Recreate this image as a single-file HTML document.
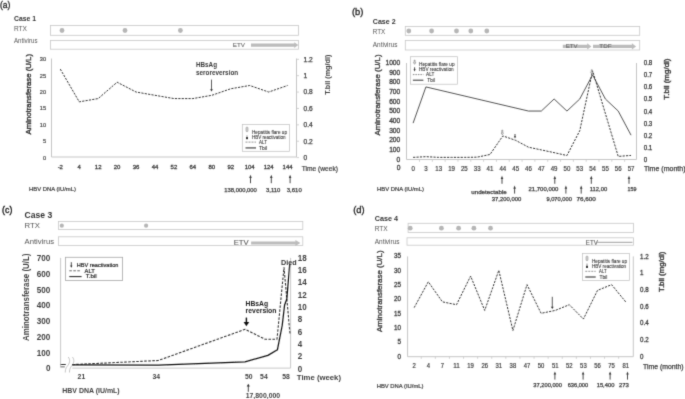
<!DOCTYPE html>
<html><head><meta charset="utf-8"><style>
html,body{margin:0;padding:0;background:#fff;}
svg{display:block;font-family:"Liberation Sans", sans-serif;will-change:transform;}
</style></head><body>
<svg width="685" height="399" viewBox="0 0 685 399">
<defs><filter id="bl" x="0" y="0" width="685" height="399" filterUnits="userSpaceOnUse"><feConvolveMatrix order="3" kernelMatrix="1 6 1 6 36 6 1 6 1" divisor="64" edgeMode="duplicate" preserveAlpha="false"/></filter></defs>
<rect width="685" height="399" fill="#fff"/>
<g filter="url(#bl)">
<text x="0.00" y="8.13" font-size="9.8" fill="#222" stroke="#222" stroke-width="0.3" textLength="10.40" lengthAdjust="spacingAndGlyphs">(a)</text>
<text x="14.00" y="20.72" font-size="7" fill="#333" font-weight="bold" textLength="22.00" lengthAdjust="spacingAndGlyphs">Case 1</text>
<text x="14.00" y="30.84" font-size="6.5" fill="#555" textLength="13.00" lengthAdjust="spacingAndGlyphs">RTX</text>
<rect x="50.50" y="25.50" width="248.00" height="9.80" fill="none" stroke="#c8c8c8" stroke-width="0.8"/>
<circle cx="62.00" cy="30.50" r="2.4" fill="#b6b6b6"/>
<circle cx="125.00" cy="30.50" r="2.4" fill="#b6b6b6"/>
<circle cx="180.40" cy="30.50" r="2.4" fill="#b6b6b6"/>
<text x="14.00" y="43.34" font-size="6.5" fill="#555" textLength="23.50" lengthAdjust="spacingAndGlyphs">Antivirus</text>
<rect x="50.50" y="40.50" width="248.00" height="8.70" fill="none" stroke="#c8c8c8" stroke-width="0.8"/>
<text x="232.80" y="47.23" font-size="6.2" fill="#666" stroke="#666" stroke-width="0.1" textLength="12.20" lengthAdjust="spacingAndGlyphs">ETV</text>
<polygon points="251.00,43.55 294.30,43.55 294.30,42.30 298.30,45.10 294.30,47.90 294.30,46.65 251.00,46.65" fill="#bcbcbc"/>
<line x1="51.50" y1="58.50" x2="51.50" y2="157.00" stroke="#c6c6c6" stroke-width="1"/>
<line x1="51.50" y1="157.00" x2="296.50" y2="157.00" stroke="#c6c6c6" stroke-width="1"/>
<line x1="296.50" y1="58.50" x2="296.50" y2="157.00" stroke="#c6c6c6" stroke-width="1"/>
<text x="46.00" y="159.52" font-size="5.6" fill="#444" stroke="#444" stroke-width="0.2" text-anchor="end">0</text>
<text x="46.00" y="143.15" font-size="5.6" fill="#444" stroke="#444" stroke-width="0.2" text-anchor="end">5</text>
<text x="46.00" y="126.78" font-size="5.6" fill="#444" stroke="#444" stroke-width="0.2" text-anchor="end">10</text>
<text x="46.00" y="110.42" font-size="5.6" fill="#444" stroke="#444" stroke-width="0.2" text-anchor="end">15</text>
<text x="46.00" y="94.05" font-size="5.6" fill="#444" stroke="#444" stroke-width="0.2" text-anchor="end">20</text>
<text x="46.00" y="77.68" font-size="5.6" fill="#444" stroke="#444" stroke-width="0.2" text-anchor="end">25</text>
<text x="46.00" y="61.32" font-size="5.6" fill="#444" stroke="#444" stroke-width="0.2" text-anchor="end">30</text>
<text x="303.50" y="159.98" font-size="6.6" fill="#404040" stroke="#404040" stroke-width="0.25">0</text>
<line x1="296.50" y1="157.60" x2="299.00" y2="157.60" stroke="#c6c6c6" stroke-width="0.8"/>
<text x="303.50" y="143.59" font-size="6.6" fill="#404040" stroke="#404040" stroke-width="0.25">0.2</text>
<line x1="296.50" y1="141.22" x2="299.00" y2="141.22" stroke="#c6c6c6" stroke-width="0.8"/>
<text x="303.50" y="127.21" font-size="6.6" fill="#404040" stroke="#404040" stroke-width="0.25">0.4</text>
<line x1="296.50" y1="124.83" x2="299.00" y2="124.83" stroke="#c6c6c6" stroke-width="0.8"/>
<text x="303.50" y="110.83" font-size="6.6" fill="#404040" stroke="#404040" stroke-width="0.25">0.6</text>
<line x1="296.50" y1="108.45" x2="299.00" y2="108.45" stroke="#c6c6c6" stroke-width="0.8"/>
<text x="303.50" y="94.44" font-size="6.6" fill="#404040" stroke="#404040" stroke-width="0.25">0.8</text>
<line x1="296.50" y1="92.07" x2="299.00" y2="92.07" stroke="#c6c6c6" stroke-width="0.8"/>
<text x="303.50" y="78.06" font-size="6.6" fill="#404040" stroke="#404040" stroke-width="0.25">1</text>
<line x1="296.50" y1="75.68" x2="299.00" y2="75.68" stroke="#c6c6c6" stroke-width="0.8"/>
<text x="303.50" y="61.68" font-size="6.6" fill="#404040" stroke="#404040" stroke-width="0.25">1.2</text>
<line x1="296.50" y1="59.30" x2="299.00" y2="59.30" stroke="#c6c6c6" stroke-width="0.8"/>
<text x="60.30" y="169.36" font-size="6.0" fill="#404040" stroke="#404040" stroke-width="0.3" text-anchor="middle">-2</text>
<text x="79.24" y="169.36" font-size="6.0" fill="#404040" stroke="#404040" stroke-width="0.3" text-anchor="middle">4</text>
<text x="98.18" y="169.36" font-size="6.0" fill="#404040" stroke="#404040" stroke-width="0.3" text-anchor="middle">12</text>
<text x="117.12" y="169.36" font-size="6.0" fill="#404040" stroke="#404040" stroke-width="0.3" text-anchor="middle">20</text>
<text x="136.06" y="169.36" font-size="6.0" fill="#404040" stroke="#404040" stroke-width="0.3" text-anchor="middle">36</text>
<text x="155.00" y="169.36" font-size="6.0" fill="#404040" stroke="#404040" stroke-width="0.3" text-anchor="middle">44</text>
<text x="173.94" y="169.36" font-size="6.0" fill="#404040" stroke="#404040" stroke-width="0.3" text-anchor="middle">52</text>
<text x="192.88" y="169.36" font-size="6.0" fill="#404040" stroke="#404040" stroke-width="0.3" text-anchor="middle">64</text>
<text x="211.82" y="169.36" font-size="6.0" fill="#404040" stroke="#404040" stroke-width="0.3" text-anchor="middle">80</text>
<text x="230.76" y="169.36" font-size="6.0" fill="#404040" stroke="#404040" stroke-width="0.3" text-anchor="middle">92</text>
<text x="249.70" y="169.36" font-size="6.0" fill="#404040" stroke="#404040" stroke-width="0.3" text-anchor="middle">104</text>
<text x="268.64" y="169.36" font-size="6.0" fill="#404040" stroke="#404040" stroke-width="0.3" text-anchor="middle">124</text>
<text x="287.58" y="169.36" font-size="6.0" fill="#404040" stroke="#404040" stroke-width="0.3" text-anchor="middle">144</text>
<text x="301.70" y="170.58" font-size="6.6" fill="#404040" stroke="#404040" stroke-width="0.2" textLength="36.30" lengthAdjust="spacingAndGlyphs">Time (week)</text>
<text transform="translate(28.70,94.25) rotate(-90)" x="0" y="2.74" font-size="7.6" fill="#3a3a3a" stroke="#3a3a3a" stroke-width="0.4" text-anchor="middle" textLength="80.50" lengthAdjust="spacingAndGlyphs">Aminotransferase (U/L)</text>
<text transform="translate(328.00,74.70) rotate(-90)" x="0" y="2.38" font-size="6.6" fill="#404040" font-weight="bold" text-anchor="middle" textLength="40.20" lengthAdjust="spacingAndGlyphs">T.bil (mg/dl)</text>
<polyline points="60.30,69.12 79.24,101.85 98.18,98.58 117.12,82.21 136.06,92.03 155.00,95.31 173.94,98.58 192.88,98.58 211.82,95.31 230.76,88.76 249.70,85.49 268.64,92.03 287.58,85.49" fill="none" stroke="#333" stroke-width="1.0" stroke-dasharray="2.2,1.2" stroke-linejoin="round"/>
<text x="196.00" y="66.78" font-size="6.6" fill="#3a3a3a" font-weight="bold" textLength="21.00" lengthAdjust="spacingAndGlyphs">HBsAg</text>
<text x="196.00" y="75.15" font-size="6.6" fill="#3a3a3a" font-weight="bold" textLength="42.20" lengthAdjust="spacingAndGlyphs">seroreversion</text>
<line x1="211.50" y1="79.60" x2="211.50" y2="90.18" stroke="#333" stroke-width="0.8"/>
<polygon points="211.50,91.50 210.10,89.30 212.90,89.30" fill="#333"/>
<rect x="242.30" y="124.50" width="47.30" height="26.80" fill="none" stroke="#bfbfbf" stroke-width="0.7"/>
<rect x="246.00" y="127.20" width="2.0" height="4.40" rx="0.6" fill="#d8d8d8" stroke="#7a7a7a" stroke-width="0.5"/>
<text x="252.00" y="133.66" font-size="4.6" fill="#2a2a2a" stroke="#2a2a2a" stroke-width="0.06" textLength="35.00" lengthAdjust="spacingAndGlyphs">Hepatitis flare up</text>
<rect x="246.40" y="135.30" width="1.2" height="2.40" fill="#aaa"/>
<rect x="246.00" y="136.90" width="2.0" height="2.3" rx="0.4" fill="#333"/>
<text x="252.00" y="139.26" font-size="4.6" fill="#2a2a2a" stroke="#2a2a2a" stroke-width="0.06" textLength="33.60" lengthAdjust="spacingAndGlyphs">HBV reactivation</text>
<line x1="245.50" y1="142.10" x2="256.00" y2="142.10" stroke="#aaa" stroke-width="1.2" stroke-dasharray="2,1"/>
<text x="259.00" y="143.76" font-size="4.6" fill="#2a2a2a" stroke="#2a2a2a" stroke-width="0.06" textLength="7.90" lengthAdjust="spacingAndGlyphs">ALT</text>
<line x1="245.50" y1="147.90" x2="256.00" y2="147.90" stroke="#6a6a6a" stroke-width="1.5"/>
<text x="259.00" y="149.56" font-size="4.6" fill="#2a2a2a" stroke="#2a2a2a" stroke-width="0.06" textLength="8.10" lengthAdjust="spacingAndGlyphs">Tbil</text>
<text x="29.00" y="190.94" font-size="5.4" fill="#404040" stroke="#404040" stroke-width="0.2" textLength="47.00" lengthAdjust="spacingAndGlyphs">HBV DNA (IU/mL)</text>
<line x1="250.50" y1="176.72" x2="250.50" y2="183.20" stroke="#404040" stroke-width="0.95"/>
<polygon points="250.50,174.80 249.20,178.00 251.80,178.00" fill="#404040"/>
<line x1="271.30" y1="176.72" x2="271.30" y2="183.20" stroke="#404040" stroke-width="0.95"/>
<polygon points="271.30,174.80 270.00,178.00 272.60,178.00" fill="#404040"/>
<line x1="290.10" y1="176.72" x2="290.10" y2="183.20" stroke="#404040" stroke-width="0.95"/>
<polygon points="290.10,174.80 288.80,178.00 291.40,178.00" fill="#404040"/>
<text x="224.30" y="191.80" font-size="5" fill="#404040" stroke="#404040" stroke-width="0.25" textLength="32.50" lengthAdjust="spacingAndGlyphs">138,000,000</text>
<text x="266.00" y="191.80" font-size="5" fill="#404040" stroke="#404040" stroke-width="0.25" textLength="14.40" lengthAdjust="spacingAndGlyphs">3,110</text>
<text x="286.80" y="191.80" font-size="5" fill="#404040" stroke="#404040" stroke-width="0.25" textLength="14.90" lengthAdjust="spacingAndGlyphs">3,610</text>
<text x="351.90" y="15.11" font-size="9.2" fill="#222" stroke="#222" stroke-width="0.3" textLength="11.40" lengthAdjust="spacingAndGlyphs">(b)</text>
<text x="372.80" y="23.86" font-size="7.1" fill="#333" font-weight="bold" textLength="22.80" lengthAdjust="spacingAndGlyphs">Case 2</text>
<text x="372.80" y="33.94" font-size="6.5" fill="#555" textLength="12.50" lengthAdjust="spacingAndGlyphs">RTX</text>
<rect x="405.30" y="26.50" width="234.40" height="8.80" fill="none" stroke="#c8c8c8" stroke-width="0.8"/>
<circle cx="408.80" cy="31.00" r="2.4" fill="#b6b6b6"/>
<circle cx="431.60" cy="31.00" r="2.4" fill="#b6b6b6"/>
<circle cx="456.50" cy="31.00" r="2.4" fill="#b6b6b6"/>
<circle cx="470.80" cy="31.00" r="2.4" fill="#b6b6b6"/>
<circle cx="486.80" cy="31.00" r="2.4" fill="#b6b6b6"/>
<text x="372.80" y="46.74" font-size="6.5" fill="#555" textLength="24.70" lengthAdjust="spacingAndGlyphs">Antivirus</text>
<rect x="405.30" y="40.50" width="234.40" height="9.50" fill="none" stroke="#c8c8c8" stroke-width="0.8"/>
<polygon points="562.80,44.80 587.20,44.80 587.20,43.30 591.40,46.40 587.20,49.50 587.20,48.00 562.80,48.00" fill="#bcbcbc"/>
<polygon points="593.00,44.80 631.90,44.80 631.90,43.30 636.10,46.40 631.90,49.50 631.90,48.00 593.00,48.00" fill="#bcbcbc"/>
<text x="565.80" y="48.06" font-size="6.0" fill="#666" stroke="#666" stroke-width="0.1" textLength="11.80" lengthAdjust="spacingAndGlyphs">ETV</text>
<text x="599.30" y="48.06" font-size="6.0" fill="#666" stroke="#666" stroke-width="0.1" textLength="12.20" lengthAdjust="spacingAndGlyphs">TDF</text>
<line x1="406.50" y1="63.00" x2="406.50" y2="159.50" stroke="#c6c6c6" stroke-width="1"/>
<line x1="406.50" y1="159.50" x2="636.50" y2="159.50" stroke="#c6c6c6" stroke-width="1"/>
<line x1="636.50" y1="63.00" x2="636.50" y2="159.50" stroke="#c6c6c6" stroke-width="1"/>
<text x="400.30" y="161.71" font-size="6.7" fill="#404040" stroke="#404040" stroke-width="0.3" text-anchor="end">0</text>
<text x="400.30" y="152.04" font-size="6.7" fill="#404040" stroke="#404040" stroke-width="0.3" text-anchor="end">100</text>
<text x="400.30" y="142.37" font-size="6.7" fill="#404040" stroke="#404040" stroke-width="0.3" text-anchor="end">200</text>
<text x="400.30" y="132.70" font-size="6.7" fill="#404040" stroke="#404040" stroke-width="0.3" text-anchor="end">300</text>
<text x="400.30" y="123.03" font-size="6.7" fill="#404040" stroke="#404040" stroke-width="0.3" text-anchor="end">400</text>
<text x="400.30" y="113.36" font-size="6.7" fill="#404040" stroke="#404040" stroke-width="0.3" text-anchor="end">500</text>
<text x="400.30" y="103.69" font-size="6.7" fill="#404040" stroke="#404040" stroke-width="0.3" text-anchor="end">600</text>
<text x="400.30" y="94.02" font-size="6.7" fill="#404040" stroke="#404040" stroke-width="0.3" text-anchor="end">700</text>
<text x="400.30" y="84.35" font-size="6.7" fill="#404040" stroke="#404040" stroke-width="0.3" text-anchor="end">800</text>
<text x="400.30" y="74.68" font-size="6.7" fill="#404040" stroke="#404040" stroke-width="0.3" text-anchor="end">900</text>
<text x="400.30" y="65.01" font-size="6.7" fill="#404040" stroke="#404040" stroke-width="0.3" text-anchor="end">1000</text>
<text x="398.50" y="170.31" font-size="6.7" fill="#404040" stroke="#404040" stroke-width="0.3" text-anchor="middle">0</text>
<text x="643.70" y="161.75" font-size="6.8" fill="#333" stroke="#333" stroke-width="0.25" textLength="3.45" lengthAdjust="spacingAndGlyphs">0</text>
<text x="643.70" y="149.69" font-size="6.8" fill="#333" stroke="#333" stroke-width="0.25" textLength="8.60" lengthAdjust="spacingAndGlyphs">0.1</text>
<text x="643.70" y="137.62" font-size="6.8" fill="#333" stroke="#333" stroke-width="0.25" textLength="8.60" lengthAdjust="spacingAndGlyphs">0.2</text>
<text x="643.70" y="125.56" font-size="6.8" fill="#333" stroke="#333" stroke-width="0.25" textLength="8.60" lengthAdjust="spacingAndGlyphs">0.3</text>
<text x="643.70" y="113.50" font-size="6.8" fill="#333" stroke="#333" stroke-width="0.25" textLength="8.60" lengthAdjust="spacingAndGlyphs">0.4</text>
<text x="643.70" y="101.44" font-size="6.8" fill="#333" stroke="#333" stroke-width="0.25" textLength="8.60" lengthAdjust="spacingAndGlyphs">0.5</text>
<text x="643.70" y="89.37" font-size="6.8" fill="#333" stroke="#333" stroke-width="0.25" textLength="8.60" lengthAdjust="spacingAndGlyphs">0.6</text>
<text x="643.70" y="77.31" font-size="6.8" fill="#333" stroke="#333" stroke-width="0.25" textLength="8.60" lengthAdjust="spacingAndGlyphs">0.7</text>
<text x="643.70" y="65.25" font-size="6.8" fill="#333" stroke="#333" stroke-width="0.25" textLength="8.60" lengthAdjust="spacingAndGlyphs">0.8</text>
<text x="413.10" y="170.65" font-size="6.8" fill="#404040" stroke="#404040" stroke-width="0.2" text-anchor="middle" textLength="3.40" lengthAdjust="spacingAndGlyphs">0</text>
<text x="425.92" y="170.65" font-size="6.8" fill="#404040" stroke="#404040" stroke-width="0.2" text-anchor="middle" textLength="3.40" lengthAdjust="spacingAndGlyphs">3</text>
<text x="438.74" y="170.65" font-size="6.8" fill="#404040" stroke="#404040" stroke-width="0.2" text-anchor="middle" textLength="6.80" lengthAdjust="spacingAndGlyphs">13</text>
<text x="451.56" y="170.65" font-size="6.8" fill="#404040" stroke="#404040" stroke-width="0.2" text-anchor="middle" textLength="6.80" lengthAdjust="spacingAndGlyphs">19</text>
<text x="464.38" y="170.65" font-size="6.8" fill="#404040" stroke="#404040" stroke-width="0.2" text-anchor="middle" textLength="6.80" lengthAdjust="spacingAndGlyphs">25</text>
<text x="477.20" y="170.65" font-size="6.8" fill="#404040" stroke="#404040" stroke-width="0.2" text-anchor="middle" textLength="6.80" lengthAdjust="spacingAndGlyphs">33</text>
<text x="490.02" y="170.65" font-size="6.8" fill="#404040" stroke="#404040" stroke-width="0.2" text-anchor="middle" textLength="6.80" lengthAdjust="spacingAndGlyphs">41</text>
<text x="502.84" y="170.65" font-size="6.8" fill="#404040" stroke="#404040" stroke-width="0.2" text-anchor="middle" textLength="6.80" lengthAdjust="spacingAndGlyphs">44</text>
<text x="515.66" y="170.65" font-size="6.8" fill="#404040" stroke="#404040" stroke-width="0.2" text-anchor="middle" textLength="6.80" lengthAdjust="spacingAndGlyphs">45</text>
<text x="528.48" y="170.65" font-size="6.8" fill="#404040" stroke="#404040" stroke-width="0.2" text-anchor="middle" textLength="6.80" lengthAdjust="spacingAndGlyphs">46</text>
<text x="541.30" y="170.65" font-size="6.8" fill="#404040" stroke="#404040" stroke-width="0.2" text-anchor="middle" textLength="6.80" lengthAdjust="spacingAndGlyphs">47</text>
<text x="554.12" y="170.65" font-size="6.8" fill="#404040" stroke="#404040" stroke-width="0.2" text-anchor="middle" textLength="6.80" lengthAdjust="spacingAndGlyphs">49</text>
<text x="566.94" y="170.65" font-size="6.8" fill="#404040" stroke="#404040" stroke-width="0.2" text-anchor="middle" textLength="6.80" lengthAdjust="spacingAndGlyphs">50</text>
<text x="579.76" y="170.65" font-size="6.8" fill="#404040" stroke="#404040" stroke-width="0.2" text-anchor="middle" textLength="6.80" lengthAdjust="spacingAndGlyphs">53</text>
<text x="592.58" y="170.65" font-size="6.8" fill="#404040" stroke="#404040" stroke-width="0.2" text-anchor="middle" textLength="6.80" lengthAdjust="spacingAndGlyphs">54</text>
<text x="605.40" y="170.65" font-size="6.8" fill="#404040" stroke="#404040" stroke-width="0.2" text-anchor="middle" textLength="6.80" lengthAdjust="spacingAndGlyphs">55</text>
<text x="618.22" y="170.65" font-size="6.8" fill="#404040" stroke="#404040" stroke-width="0.2" text-anchor="middle" textLength="6.80" lengthAdjust="spacingAndGlyphs">56</text>
<text x="631.04" y="170.65" font-size="6.8" fill="#404040" stroke="#404040" stroke-width="0.2" text-anchor="middle" textLength="6.80" lengthAdjust="spacingAndGlyphs">57</text>
<line x1="419.51" y1="159.50" x2="419.51" y2="161.80" stroke="#c6c6c6" stroke-width="0.8"/>
<line x1="432.33" y1="159.50" x2="432.33" y2="161.80" stroke="#c6c6c6" stroke-width="0.8"/>
<line x1="445.15" y1="159.50" x2="445.15" y2="161.80" stroke="#c6c6c6" stroke-width="0.8"/>
<line x1="457.97" y1="159.50" x2="457.97" y2="161.80" stroke="#c6c6c6" stroke-width="0.8"/>
<line x1="470.79" y1="159.50" x2="470.79" y2="161.80" stroke="#c6c6c6" stroke-width="0.8"/>
<line x1="483.61" y1="159.50" x2="483.61" y2="161.80" stroke="#c6c6c6" stroke-width="0.8"/>
<line x1="496.43" y1="159.50" x2="496.43" y2="161.80" stroke="#c6c6c6" stroke-width="0.8"/>
<line x1="509.25" y1="159.50" x2="509.25" y2="161.80" stroke="#c6c6c6" stroke-width="0.8"/>
<line x1="522.07" y1="159.50" x2="522.07" y2="161.80" stroke="#c6c6c6" stroke-width="0.8"/>
<line x1="534.89" y1="159.50" x2="534.89" y2="161.80" stroke="#c6c6c6" stroke-width="0.8"/>
<line x1="547.71" y1="159.50" x2="547.71" y2="161.80" stroke="#c6c6c6" stroke-width="0.8"/>
<line x1="560.53" y1="159.50" x2="560.53" y2="161.80" stroke="#c6c6c6" stroke-width="0.8"/>
<line x1="573.35" y1="159.50" x2="573.35" y2="161.80" stroke="#c6c6c6" stroke-width="0.8"/>
<line x1="586.17" y1="159.50" x2="586.17" y2="161.80" stroke="#c6c6c6" stroke-width="0.8"/>
<line x1="598.99" y1="159.50" x2="598.99" y2="161.80" stroke="#c6c6c6" stroke-width="0.8"/>
<line x1="611.81" y1="159.50" x2="611.81" y2="161.80" stroke="#c6c6c6" stroke-width="0.8"/>
<line x1="624.63" y1="159.50" x2="624.63" y2="161.80" stroke="#c6c6c6" stroke-width="0.8"/>
<text x="644.00" y="171.04" font-size="6.8" fill="#404040" stroke="#404040" stroke-width="0.25" textLength="41.50" lengthAdjust="spacingAndGlyphs">Time (month)</text>
<text transform="translate(377.30,95.05) rotate(-90)" x="0" y="2.66" font-size="7.4" fill="#404040" stroke="#404040" stroke-width="0.35" text-anchor="middle" textLength="81.10" lengthAdjust="spacingAndGlyphs">Aminotransferase (U/L)</text>
<text transform="translate(666.70,79.10) rotate(-90)" x="0" y="2.52" font-size="7.0" fill="#404040" stroke="#404040" stroke-width="0.4" text-anchor="middle" textLength="41.20" lengthAdjust="spacingAndGlyphs">T.bil (mg/dl)</text>
<rect x="410.40" y="56.70" width="47.20" height="27.50" fill="none" stroke="#bfbfbf" stroke-width="0.7"/>
<path d="M414.10,60.20 L415.10,60.20 L415.10,62.60 L415.70,62.60 L414.60,64.30 L413.50,62.60 L414.10,62.60 Z" fill="#fff" stroke="#505050" stroke-width="0.5" stroke-linejoin="round"/>
<text x="419.00" y="65.66" font-size="4.6" fill="#2a2a2a" stroke="#2a2a2a" stroke-width="0.06" textLength="35.60" lengthAdjust="spacingAndGlyphs">Hepatitis flare up</text>
<line x1="414.60" y1="67.30" x2="414.60" y2="69.90" stroke="#444" stroke-width="0.95"/>
<path d="M413.50,69.30 L415.70,69.30 L414.60,71.50 Z" fill="#303030"/>
<text x="419.00" y="71.46" font-size="4.6" fill="#2a2a2a" stroke="#2a2a2a" stroke-width="0.06" textLength="34.60" lengthAdjust="spacingAndGlyphs">HBV reactivation</text>
<line x1="412.90" y1="74.60" x2="423.40" y2="74.60" stroke="#555" stroke-width="0.7" stroke-dasharray="1.5,1"/>
<text x="426.00" y="76.26" font-size="4.6" fill="#2a2a2a" stroke="#2a2a2a" stroke-width="0.06" textLength="8.30" lengthAdjust="spacingAndGlyphs">ALT</text>
<line x1="412.90" y1="80.20" x2="423.40" y2="80.20" stroke="#333" stroke-width="1"/>
<text x="427.30" y="81.86" font-size="4.6" fill="#2a2a2a" stroke="#2a2a2a" stroke-width="0.06" textLength="7.50" lengthAdjust="spacingAndGlyphs">Tbil</text>
<polyline points="413.10,123.11 425.92,86.93 528.48,111.05 541.30,111.05 554.12,98.99 566.94,111.05 579.76,98.99 592.58,74.86 605.40,98.99 618.22,111.05 631.04,135.18" fill="none" stroke="#404040" stroke-width="0.9" stroke-linejoin="round"/>
<polyline points="413.10,157.37 425.92,156.69 438.74,157.37 451.56,157.37 464.38,157.37 477.20,157.17 490.02,154.47 502.84,135.90 515.66,140.35 528.48,147.21 541.30,149.92 554.12,152.63 566.94,155.53 579.76,130.68 592.58,70.82 618.22,156.40 631.04,155.43" fill="none" stroke="#333" stroke-width="1.0" stroke-dasharray="2.2,1.2" stroke-linejoin="round"/>
<path d="M501.80,130.20 L502.80,130.20 L502.80,133.10 L503.40,133.10 L502.30,134.80 L501.20,133.10 L501.80,133.10 Z" fill="#fff" stroke="#505050" stroke-width="0.5" stroke-linejoin="round"/>
<path d="M591.30,69.80 L592.30,69.80 L592.30,72.30 L592.90,72.30 L591.80,74.00 L590.70,72.30 L591.30,72.30 Z" fill="#fff" stroke="#505050" stroke-width="0.5" stroke-linejoin="round"/>
<line x1="515.00" y1="134.00" x2="515.00" y2="136.80" stroke="#444" stroke-width="0.95"/>
<path d="M513.90,136.20 L516.10,136.20 L515.00,138.40 Z" fill="#303030"/>
<text x="377.00" y="190.84" font-size="5.4" fill="#404040" stroke="#404040" stroke-width="0.2" textLength="47.00" lengthAdjust="spacingAndGlyphs">HBV DNA (IU/mL)</text>
<line x1="502.00" y1="177.72" x2="502.00" y2="183.80" stroke="#404040" stroke-width="0.95"/>
<polygon points="502.00,175.80 500.70,179.00 503.30,179.00" fill="#404040"/>
<line x1="554.80" y1="177.72" x2="554.80" y2="183.80" stroke="#404040" stroke-width="0.95"/>
<polygon points="554.80,175.80 553.50,179.00 556.10,179.00" fill="#404040"/>
<line x1="591.30" y1="177.72" x2="591.30" y2="183.80" stroke="#404040" stroke-width="0.95"/>
<polygon points="591.30,175.80 590.00,179.00 592.60,179.00" fill="#404040"/>
<line x1="629.00" y1="177.72" x2="629.00" y2="183.80" stroke="#404040" stroke-width="0.95"/>
<polygon points="629.00,175.80 627.70,179.00 630.30,179.00" fill="#404040"/>
<line x1="514.60" y1="187.52" x2="514.60" y2="193.60" stroke="#404040" stroke-width="0.95"/>
<polygon points="514.60,185.60 513.30,188.80 515.90,188.80" fill="#404040"/>
<line x1="565.90" y1="187.52" x2="565.90" y2="193.60" stroke="#404040" stroke-width="0.95"/>
<polygon points="565.90,185.60 564.60,188.80 567.20,188.80" fill="#404040"/>
<line x1="581.20" y1="187.52" x2="581.20" y2="193.60" stroke="#404040" stroke-width="0.95"/>
<polygon points="581.20,185.60 579.90,188.80 582.50,188.80" fill="#404040"/>
<text x="471.30" y="193.80" font-size="5.2" fill="#404040" stroke="#404040" stroke-width="0.25" textLength="35.40" lengthAdjust="spacingAndGlyphs">undetectable</text>
<text x="491.80" y="201.27" font-size="5.2" fill="#404040" stroke="#404040" stroke-width="0.25" textLength="29.50" lengthAdjust="spacingAndGlyphs">37,200,000</text>
<text x="528.50" y="191.17" font-size="5.2" fill="#404040" stroke="#404040" stroke-width="0.25" textLength="29.90" lengthAdjust="spacingAndGlyphs">21,700,000</text>
<text x="546.40" y="201.27" font-size="5.2" fill="#404040" stroke="#404040" stroke-width="0.25" textLength="25.50" lengthAdjust="spacingAndGlyphs">9,070,000</text>
<text x="576.40" y="201.27" font-size="5.2" fill="#404040" stroke="#404040" stroke-width="0.25" textLength="19.40" lengthAdjust="spacingAndGlyphs">76,600</text>
<text x="589.80" y="191.17" font-size="5.2" fill="#404040" stroke="#404040" stroke-width="0.25" textLength="17.40" lengthAdjust="spacingAndGlyphs">112,00</text>
<text x="627.60" y="191.17" font-size="5.2" fill="#404040" stroke="#404040" stroke-width="0.25" textLength="8.90" lengthAdjust="spacingAndGlyphs">159</text>
<text x="2.10" y="213.21" font-size="9.2" fill="#222" stroke="#222" stroke-width="0.4" textLength="10.20" lengthAdjust="spacingAndGlyphs">(c)</text>
<text x="24.60" y="218.32" font-size="8.4" fill="#333" font-weight="bold" textLength="27.70" lengthAdjust="spacingAndGlyphs">Case 3</text>
<text x="24.60" y="228.17" font-size="7.7" fill="#555" textLength="15.40" lengthAdjust="spacingAndGlyphs">RTX</text>
<rect x="58.40" y="221.40" width="244.40" height="8.10" fill="none" stroke="#c8c8c8" stroke-width="0.8"/>
<circle cx="61.80" cy="225.70" r="2.1" fill="#b6b6b6"/>
<circle cx="146.10" cy="225.70" r="2.1" fill="#b6b6b6"/>
<text x="24.60" y="243.97" font-size="7.7" fill="#555" textLength="29.40" lengthAdjust="spacingAndGlyphs">Antivirus</text>
<rect x="58.40" y="236.80" width="244.40" height="8.60" fill="none" stroke="#c8c8c8" stroke-width="0.8"/>
<text x="233.70" y="244.96" font-size="7.4" fill="#555" stroke="#555" stroke-width="0.1" textLength="15.00" lengthAdjust="spacingAndGlyphs">ETV</text>
<polygon points="251.10,241.40 295.40,241.40 295.40,239.90 300.40,242.90 295.40,245.90 295.40,244.40 251.10,244.40" fill="#bcbcbc"/>
<line x1="60.60" y1="257.90" x2="60.60" y2="367.50" stroke="#c8c8c8" stroke-width="1"/>
<line x1="72.30" y1="368.10" x2="290.60" y2="368.10" stroke="#c8c8c8" stroke-width="1"/>
<line x1="290.60" y1="257.90" x2="290.60" y2="368.10" stroke="#c8c8c8" stroke-width="1"/>
<path d="M68.2,357 C70.6,359.8 69.8,363.5 67.2,366.3 C65.6,368.2 65.2,370.5 65.3,372.5 M72.4,357 C74.8,359.8 74,363.5 71.4,366.3 C69.8,368.2 69.4,370.5 69.5,372.5" fill="none" stroke="#b8b8b8" stroke-width="0.8"/>
<line x1="60.60" y1="364.50" x2="65.80" y2="364.50" stroke="#333" stroke-width="1"/>
<line x1="60.60" y1="366.80" x2="64.80" y2="366.80" stroke="#9a9a9a" stroke-width="1.5"/>
<text x="50.40" y="371.33" font-size="8.7" fill="#404040" font-weight="bold" text-anchor="end" textLength="4.52" lengthAdjust="spacingAndGlyphs">0</text>
<text x="50.40" y="355.57" font-size="8.7" fill="#404040" font-weight="bold" text-anchor="end" textLength="13.57" lengthAdjust="spacingAndGlyphs">100</text>
<text x="50.40" y="339.82" font-size="8.7" fill="#404040" font-weight="bold" text-anchor="end" textLength="13.57" lengthAdjust="spacingAndGlyphs">200</text>
<text x="50.40" y="324.06" font-size="8.7" fill="#404040" font-weight="bold" text-anchor="end" textLength="13.57" lengthAdjust="spacingAndGlyphs">300</text>
<text x="50.40" y="308.30" font-size="8.7" fill="#404040" font-weight="bold" text-anchor="end" textLength="13.57" lengthAdjust="spacingAndGlyphs">400</text>
<text x="50.40" y="292.55" font-size="8.7" fill="#404040" font-weight="bold" text-anchor="end" textLength="13.57" lengthAdjust="spacingAndGlyphs">500</text>
<text x="50.40" y="276.79" font-size="8.7" fill="#404040" font-weight="bold" text-anchor="end" textLength="13.57" lengthAdjust="spacingAndGlyphs">600</text>
<text x="50.40" y="261.03" font-size="8.7" fill="#404040" font-weight="bold" text-anchor="end" textLength="13.57" lengthAdjust="spacingAndGlyphs">700</text>
<text x="297.70" y="371.50" font-size="8.6" fill="#404040" font-weight="bold" textLength="4.47" lengthAdjust="spacingAndGlyphs">0</text>
<text x="297.70" y="359.16" font-size="8.6" fill="#404040" font-weight="bold" textLength="4.47" lengthAdjust="spacingAndGlyphs">2</text>
<text x="297.70" y="346.83" font-size="8.6" fill="#404040" font-weight="bold" textLength="4.47" lengthAdjust="spacingAndGlyphs">4</text>
<text x="297.70" y="334.50" font-size="8.6" fill="#404040" font-weight="bold" textLength="4.47" lengthAdjust="spacingAndGlyphs">6</text>
<text x="297.70" y="322.16" font-size="8.6" fill="#404040" font-weight="bold" textLength="4.47" lengthAdjust="spacingAndGlyphs">8</text>
<text x="297.70" y="309.83" font-size="8.6" fill="#404040" font-weight="bold" textLength="8.94" lengthAdjust="spacingAndGlyphs">10</text>
<text x="297.70" y="297.50" font-size="8.6" fill="#404040" font-weight="bold" textLength="8.94" lengthAdjust="spacingAndGlyphs">12</text>
<text x="297.70" y="285.16" font-size="8.6" fill="#404040" font-weight="bold" textLength="8.94" lengthAdjust="spacingAndGlyphs">14</text>
<text x="297.70" y="272.83" font-size="8.6" fill="#404040" font-weight="bold" textLength="8.94" lengthAdjust="spacingAndGlyphs">16</text>
<text x="297.70" y="260.50" font-size="8.6" fill="#404040" font-weight="bold" textLength="8.94" lengthAdjust="spacingAndGlyphs">18</text>
<text x="81.40" y="378.95" font-size="6.8" fill="#404040" font-weight="bold" text-anchor="middle">21</text>
<text x="156.30" y="378.95" font-size="6.8" fill="#404040" font-weight="bold" text-anchor="middle">34</text>
<text x="248.70" y="378.95" font-size="6.8" fill="#404040" font-weight="bold" text-anchor="middle">50</text>
<text x="263.90" y="378.95" font-size="6.8" fill="#404040" font-weight="bold" text-anchor="middle">54</text>
<text x="286.00" y="378.95" font-size="6.8" fill="#404040" font-weight="bold" text-anchor="middle">58</text>
<text x="296.80" y="379.92" font-size="7.4" fill="#404040" font-weight="bold" textLength="44.20" lengthAdjust="spacingAndGlyphs">Time (week)</text>
<text transform="translate(25.80,297.30) rotate(-90)" x="0" y="3.10" font-size="8.6" fill="#404040" font-weight="bold" text-anchor="middle" textLength="87.40" lengthAdjust="spacingAndGlyphs">Aminotransferase (U/L)</text>
<rect x="65.50" y="257.30" width="57.10" height="23.20" fill="none" stroke="#a8a8a8" stroke-width="0.8"/>
<line x1="71.30" y1="262.20" x2="71.30" y2="266.20" stroke="#444" stroke-width="0.95"/>
<path d="M70.20,265.60 L72.40,265.60 L71.30,267.80 Z" fill="#222"/>
<text x="76.70" y="267.24" font-size="5.4" fill="#2a2a2a" stroke="#2a2a2a" stroke-width="0.2" textLength="41.80" lengthAdjust="spacingAndGlyphs">HBV reactivation</text>
<line x1="69.30" y1="270.80" x2="80.20" y2="270.80" stroke="#555" stroke-width="0.9" stroke-dasharray="2.6,1.4"/>
<text x="84.60" y="272.54" font-size="5.4" fill="#2a2a2a" stroke="#2a2a2a" stroke-width="0.2" textLength="10.20" lengthAdjust="spacingAndGlyphs">ALT</text>
<line x1="69.30" y1="276.60" x2="81.60" y2="276.60" stroke="#222" stroke-width="1"/>
<text x="85.80" y="278.44" font-size="5.4" fill="#2a2a2a" stroke="#2a2a2a" stroke-width="0.2" textLength="10.80" lengthAdjust="spacingAndGlyphs">T.bil</text>
<polyline points="72.30,364.60 158.30,360.50 245.10,329.30 265.00,339.20 277.00,339.20 284.00,267.60 290.00,333.70" fill="none" stroke="#333" stroke-width="1.1" stroke-dasharray="2.6,1.4" stroke-linejoin="round"/>
<polyline points="72.30,364.90 158.30,365.20 245.00,361.80 267.90,355.40 277.40,349.80 282.20,325.50 284.60,305.00 286.80,299.00 289.80,263.50" fill="none" stroke="#111" stroke-width="1.25" stroke-linejoin="round"/>
<text x="245.60" y="306.26" font-size="7.4" fill="#222" font-weight="bold" textLength="22.50" lengthAdjust="spacingAndGlyphs">HBsAg</text>
<text x="245.60" y="313.43" font-size="7.6" fill="#222" font-weight="bold" textLength="30.90" lengthAdjust="spacingAndGlyphs">reversion</text>
<line x1="246.40" y1="317.60" x2="246.40" y2="323.66" stroke="#111" stroke-width="1.4"/>
<polygon points="246.40,326.30 243.60,321.90 249.20,321.90" fill="#111"/>
<text x="281.10" y="265.26" font-size="7.4" fill="#333" font-weight="bold" textLength="15.60" lengthAdjust="spacingAndGlyphs">Died</text>
<text x="62.30" y="393.18" font-size="6.6" fill="#404040" font-weight="bold" textLength="57.40" lengthAdjust="spacingAndGlyphs">HBV DNA (IU/mL)</text>
<line x1="248.30" y1="385.48" x2="248.30" y2="391.80" stroke="#333" stroke-width="0.9"/>
<polygon points="248.30,383.80 246.70,386.60 249.90,386.60" fill="#333"/>
<text x="245.70" y="398.00" font-size="6.4" fill="#404040" font-weight="bold" textLength="34.50" lengthAdjust="spacingAndGlyphs">17,800,000</text>
<text x="353.20" y="213.01" font-size="9.2" fill="#222" stroke="#222" stroke-width="0.3" textLength="11.40" lengthAdjust="spacingAndGlyphs">(d)</text>
<text x="374.70" y="220.66" font-size="7.1" fill="#333" font-weight="bold" textLength="23.20" lengthAdjust="spacingAndGlyphs">Case 4</text>
<text x="374.70" y="230.94" font-size="6.5" fill="#555" textLength="13.00" lengthAdjust="spacingAndGlyphs">RTX</text>
<rect x="408.10" y="223.30" width="225.40" height="9.10" fill="none" stroke="#c8c8c8" stroke-width="0.8"/>
<circle cx="410.20" cy="228.20" r="2.4" fill="#b6b6b6"/>
<circle cx="441.40" cy="228.20" r="2.4" fill="#b6b6b6"/>
<circle cx="458.60" cy="228.20" r="2.4" fill="#b6b6b6"/>
<circle cx="473.90" cy="228.20" r="2.4" fill="#b6b6b6"/>
<circle cx="490.50" cy="228.20" r="2.4" fill="#b6b6b6"/>
<text x="374.70" y="243.54" font-size="6.5" fill="#555" textLength="24.90" lengthAdjust="spacingAndGlyphs">Antivirus</text>
<rect x="407.00" y="237.80" width="226.50" height="7.40" fill="none" stroke="#c8c8c8" stroke-width="0.8"/>
<text x="585.80" y="244.78" font-size="6.6" fill="#555" stroke="#555" stroke-width="0.1" textLength="12.00" lengthAdjust="spacingAndGlyphs">ETV</text>
<line x1="596.00" y1="242.30" x2="632.50" y2="242.30" stroke="#888" stroke-width="0.8"/>
<line x1="407.60" y1="256.40" x2="407.60" y2="356.70" stroke="#c6c6c6" stroke-width="1"/>
<line x1="407.60" y1="356.70" x2="633.30" y2="356.70" stroke="#c6c6c6" stroke-width="1"/>
<line x1="633.30" y1="256.40" x2="633.30" y2="356.70" stroke="#c6c6c6" stroke-width="1"/>
<text x="401.10" y="358.68" font-size="6.6" fill="#404040" stroke="#404040" stroke-width="0.3" text-anchor="end" textLength="3.50" lengthAdjust="spacingAndGlyphs">0</text>
<text x="401.10" y="344.35" font-size="6.6" fill="#404040" stroke="#404040" stroke-width="0.3" text-anchor="end" textLength="3.50" lengthAdjust="spacingAndGlyphs">5</text>
<text x="401.10" y="330.02" font-size="6.6" fill="#404040" stroke="#404040" stroke-width="0.3" text-anchor="end" textLength="7.00" lengthAdjust="spacingAndGlyphs">10</text>
<text x="401.10" y="315.69" font-size="6.6" fill="#404040" stroke="#404040" stroke-width="0.3" text-anchor="end" textLength="7.00" lengthAdjust="spacingAndGlyphs">15</text>
<text x="401.10" y="301.36" font-size="6.6" fill="#404040" stroke="#404040" stroke-width="0.3" text-anchor="end" textLength="7.00" lengthAdjust="spacingAndGlyphs">20</text>
<text x="401.10" y="287.03" font-size="6.6" fill="#404040" stroke="#404040" stroke-width="0.3" text-anchor="end" textLength="7.00" lengthAdjust="spacingAndGlyphs">25</text>
<text x="401.10" y="272.70" font-size="6.6" fill="#404040" stroke="#404040" stroke-width="0.3" text-anchor="end" textLength="7.00" lengthAdjust="spacingAndGlyphs">30</text>
<text x="401.10" y="258.38" font-size="6.6" fill="#404040" stroke="#404040" stroke-width="0.3" text-anchor="end" textLength="7.00" lengthAdjust="spacingAndGlyphs">35</text>
<text x="640.00" y="358.65" font-size="6.8" fill="#404040" stroke="#404040" stroke-width="0.3" textLength="3.45" lengthAdjust="spacingAndGlyphs">0</text>
<text x="640.00" y="342.00" font-size="6.8" fill="#404040" stroke="#404040" stroke-width="0.3" textLength="8.60" lengthAdjust="spacingAndGlyphs">0.2</text>
<text x="640.00" y="325.35" font-size="6.8" fill="#404040" stroke="#404040" stroke-width="0.3" textLength="8.60" lengthAdjust="spacingAndGlyphs">0.4</text>
<text x="640.00" y="308.70" font-size="6.8" fill="#404040" stroke="#404040" stroke-width="0.3" textLength="8.60" lengthAdjust="spacingAndGlyphs">0.6</text>
<text x="640.00" y="292.05" font-size="6.8" fill="#404040" stroke="#404040" stroke-width="0.3" textLength="8.60" lengthAdjust="spacingAndGlyphs">0.8</text>
<text x="640.00" y="275.40" font-size="6.8" fill="#404040" stroke="#404040" stroke-width="0.3" textLength="3.45" lengthAdjust="spacingAndGlyphs">1</text>
<text x="640.00" y="258.75" font-size="6.8" fill="#404040" stroke="#404040" stroke-width="0.3" textLength="8.60" lengthAdjust="spacingAndGlyphs">1.2</text>
<text x="414.20" y="368.08" font-size="6.6" fill="#404040" stroke="#404040" stroke-width="0.2" text-anchor="middle" textLength="3.30" lengthAdjust="spacingAndGlyphs">2</text>
<text x="428.30" y="368.08" font-size="6.6" fill="#404040" stroke="#404040" stroke-width="0.2" text-anchor="middle" textLength="3.30" lengthAdjust="spacingAndGlyphs">4</text>
<text x="442.40" y="368.08" font-size="6.6" fill="#404040" stroke="#404040" stroke-width="0.2" text-anchor="middle" textLength="3.30" lengthAdjust="spacingAndGlyphs">7</text>
<text x="456.50" y="368.08" font-size="6.6" fill="#404040" stroke="#404040" stroke-width="0.2" text-anchor="middle" textLength="6.60" lengthAdjust="spacingAndGlyphs">11</text>
<text x="470.60" y="368.08" font-size="6.6" fill="#404040" stroke="#404040" stroke-width="0.2" text-anchor="middle" textLength="6.60" lengthAdjust="spacingAndGlyphs">19</text>
<text x="484.70" y="368.08" font-size="6.6" fill="#404040" stroke="#404040" stroke-width="0.2" text-anchor="middle" textLength="6.60" lengthAdjust="spacingAndGlyphs">26</text>
<text x="498.80" y="368.08" font-size="6.6" fill="#404040" stroke="#404040" stroke-width="0.2" text-anchor="middle" textLength="6.60" lengthAdjust="spacingAndGlyphs">31</text>
<text x="512.90" y="368.08" font-size="6.6" fill="#404040" stroke="#404040" stroke-width="0.2" text-anchor="middle" textLength="6.60" lengthAdjust="spacingAndGlyphs">38</text>
<text x="527.00" y="368.08" font-size="6.6" fill="#404040" stroke="#404040" stroke-width="0.2" text-anchor="middle" textLength="6.60" lengthAdjust="spacingAndGlyphs">47</text>
<text x="541.10" y="368.08" font-size="6.6" fill="#404040" stroke="#404040" stroke-width="0.2" text-anchor="middle" textLength="6.60" lengthAdjust="spacingAndGlyphs">50</text>
<text x="555.20" y="368.08" font-size="6.6" fill="#404040" stroke="#404040" stroke-width="0.2" text-anchor="middle" textLength="6.60" lengthAdjust="spacingAndGlyphs">51</text>
<text x="569.30" y="368.08" font-size="6.6" fill="#404040" stroke="#404040" stroke-width="0.2" text-anchor="middle" textLength="6.60" lengthAdjust="spacingAndGlyphs">52</text>
<text x="583.40" y="368.08" font-size="6.6" fill="#404040" stroke="#404040" stroke-width="0.2" text-anchor="middle" textLength="6.60" lengthAdjust="spacingAndGlyphs">53</text>
<text x="597.50" y="368.08" font-size="6.6" fill="#404040" stroke="#404040" stroke-width="0.2" text-anchor="middle" textLength="6.60" lengthAdjust="spacingAndGlyphs">56</text>
<text x="611.60" y="368.08" font-size="6.6" fill="#404040" stroke="#404040" stroke-width="0.2" text-anchor="middle" textLength="6.60" lengthAdjust="spacingAndGlyphs">75</text>
<text x="625.70" y="368.08" font-size="6.6" fill="#404040" stroke="#404040" stroke-width="0.2" text-anchor="middle" textLength="6.60" lengthAdjust="spacingAndGlyphs">81</text>
<line x1="421.25" y1="356.70" x2="421.25" y2="358.80" stroke="#c6c6c6" stroke-width="0.8"/>
<line x1="435.35" y1="356.70" x2="435.35" y2="358.80" stroke="#c6c6c6" stroke-width="0.8"/>
<line x1="449.45" y1="356.70" x2="449.45" y2="358.80" stroke="#c6c6c6" stroke-width="0.8"/>
<line x1="463.55" y1="356.70" x2="463.55" y2="358.80" stroke="#c6c6c6" stroke-width="0.8"/>
<line x1="477.65" y1="356.70" x2="477.65" y2="358.80" stroke="#c6c6c6" stroke-width="0.8"/>
<line x1="491.75" y1="356.70" x2="491.75" y2="358.80" stroke="#c6c6c6" stroke-width="0.8"/>
<line x1="505.85" y1="356.70" x2="505.85" y2="358.80" stroke="#c6c6c6" stroke-width="0.8"/>
<line x1="519.95" y1="356.70" x2="519.95" y2="358.80" stroke="#c6c6c6" stroke-width="0.8"/>
<line x1="534.05" y1="356.70" x2="534.05" y2="358.80" stroke="#c6c6c6" stroke-width="0.8"/>
<line x1="548.15" y1="356.70" x2="548.15" y2="358.80" stroke="#c6c6c6" stroke-width="0.8"/>
<line x1="562.25" y1="356.70" x2="562.25" y2="358.80" stroke="#c6c6c6" stroke-width="0.8"/>
<line x1="576.35" y1="356.70" x2="576.35" y2="358.80" stroke="#c6c6c6" stroke-width="0.8"/>
<line x1="590.45" y1="356.70" x2="590.45" y2="358.80" stroke="#c6c6c6" stroke-width="0.8"/>
<line x1="604.55" y1="356.70" x2="604.55" y2="358.80" stroke="#c6c6c6" stroke-width="0.8"/>
<line x1="618.65" y1="356.70" x2="618.65" y2="358.80" stroke="#c6c6c6" stroke-width="0.8"/>
<text x="643.10" y="368.54" font-size="6.8" fill="#404040" stroke="#404040" stroke-width="0.25" textLength="40.50" lengthAdjust="spacingAndGlyphs">Time (month)</text>
<text transform="translate(379.70,291.25) rotate(-90)" x="0" y="2.66" font-size="7.4" fill="#404040" stroke="#404040" stroke-width="0.35" text-anchor="middle" textLength="81.70" lengthAdjust="spacingAndGlyphs">Aminotransferase (U/L)</text>
<text transform="translate(661.00,271.80) rotate(-90)" x="0" y="2.52" font-size="7.0" fill="#404040" stroke="#404040" stroke-width="0.4" text-anchor="middle" textLength="40.40" lengthAdjust="spacingAndGlyphs">T.bil (mg/dl)</text>
<rect x="582.50" y="253.50" width="47.00" height="26.90" fill="none" stroke="#bfbfbf" stroke-width="0.7"/>
<rect x="586.00" y="256.20" width="2.0" height="4.40" rx="0.6" fill="#d8d8d8" stroke="#7a7a7a" stroke-width="0.5"/>
<text x="591.90" y="262.66" font-size="4.6" fill="#2a2a2a" stroke="#2a2a2a" stroke-width="0.06" textLength="35.20" lengthAdjust="spacingAndGlyphs">Hepatitis flare up</text>
<rect x="586.40" y="263.50" width="1.2" height="3.00" fill="#aaa"/>
<rect x="586.00" y="265.70" width="2.0" height="2.3" rx="0.4" fill="#333"/>
<text x="591.90" y="268.26" font-size="4.6" fill="#2a2a2a" stroke="#2a2a2a" stroke-width="0.06" textLength="34.20" lengthAdjust="spacingAndGlyphs">HBV reactivation</text>
<line x1="585.30" y1="271.30" x2="595.70" y2="271.30" stroke="#aaa" stroke-width="1.2" stroke-dasharray="2,1"/>
<text x="599.10" y="272.96" font-size="4.6" fill="#2a2a2a" stroke="#2a2a2a" stroke-width="0.06" textLength="7.50" lengthAdjust="spacingAndGlyphs">ALT</text>
<line x1="585.30" y1="277.00" x2="595.70" y2="277.00" stroke="#6a6a6a" stroke-width="1.5"/>
<text x="599.40" y="278.66" font-size="4.6" fill="#2a2a2a" stroke="#2a2a2a" stroke-width="0.06" textLength="7.90" lengthAdjust="spacingAndGlyphs">Tbil</text>
<polyline points="414.20,307.58 428.30,281.79 442.40,301.85 456.50,304.72 470.60,276.06 484.70,310.45 498.80,270.33 512.90,330.51 527.00,284.66 541.10,313.31 555.20,310.45 569.30,304.72 583.40,319.05 597.50,290.39 611.60,284.66 625.70,301.85" fill="none" stroke="#333" stroke-width="1.0" stroke-dasharray="2.2,1.2" stroke-linejoin="round"/>
<line x1="552.30" y1="296.80" x2="552.30" y2="307.68" stroke="#333" stroke-width="0.8"/>
<polygon points="552.30,309.00 550.90,306.80 553.70,306.80" fill="#333"/>
<text x="376.70" y="388.24" font-size="5.4" fill="#404040" stroke="#404040" stroke-width="0.2" textLength="46.90" lengthAdjust="spacingAndGlyphs">HBV DNA (IU/mL)</text>
<line x1="554.90" y1="373.32" x2="554.90" y2="379.60" stroke="#404040" stroke-width="0.95"/>
<polygon points="554.90,371.40 553.60,374.60 556.20,374.60" fill="#404040"/>
<line x1="583.10" y1="373.32" x2="583.10" y2="379.60" stroke="#404040" stroke-width="0.95"/>
<polygon points="583.10,371.40 581.80,374.60 584.40,374.60" fill="#404040"/>
<line x1="610.10" y1="373.32" x2="610.10" y2="379.60" stroke="#404040" stroke-width="0.95"/>
<polygon points="610.10,371.40 608.80,374.60 611.40,374.60" fill="#404040"/>
<line x1="627.50" y1="373.32" x2="627.50" y2="379.60" stroke="#404040" stroke-width="0.95"/>
<polygon points="627.50,371.40 626.20,374.60 628.80,374.60" fill="#404040"/>
<text x="533.30" y="386.57" font-size="5.2" fill="#404040" stroke="#404040" stroke-width="0.25" textLength="28.70" lengthAdjust="spacingAndGlyphs">37,200,000</text>
<text x="567.70" y="386.57" font-size="5.2" fill="#404040" stroke="#404040" stroke-width="0.25" textLength="20.50" lengthAdjust="spacingAndGlyphs">636,000</text>
<text x="596.70" y="386.57" font-size="5.2" fill="#404040" stroke="#404040" stroke-width="0.25" textLength="17.70" lengthAdjust="spacingAndGlyphs">15,400</text>
<text x="618.90" y="386.57" font-size="5.2" fill="#404040" stroke="#404040" stroke-width="0.25" textLength="10.00" lengthAdjust="spacingAndGlyphs">273</text>
</g>
</svg>
</body></html>
